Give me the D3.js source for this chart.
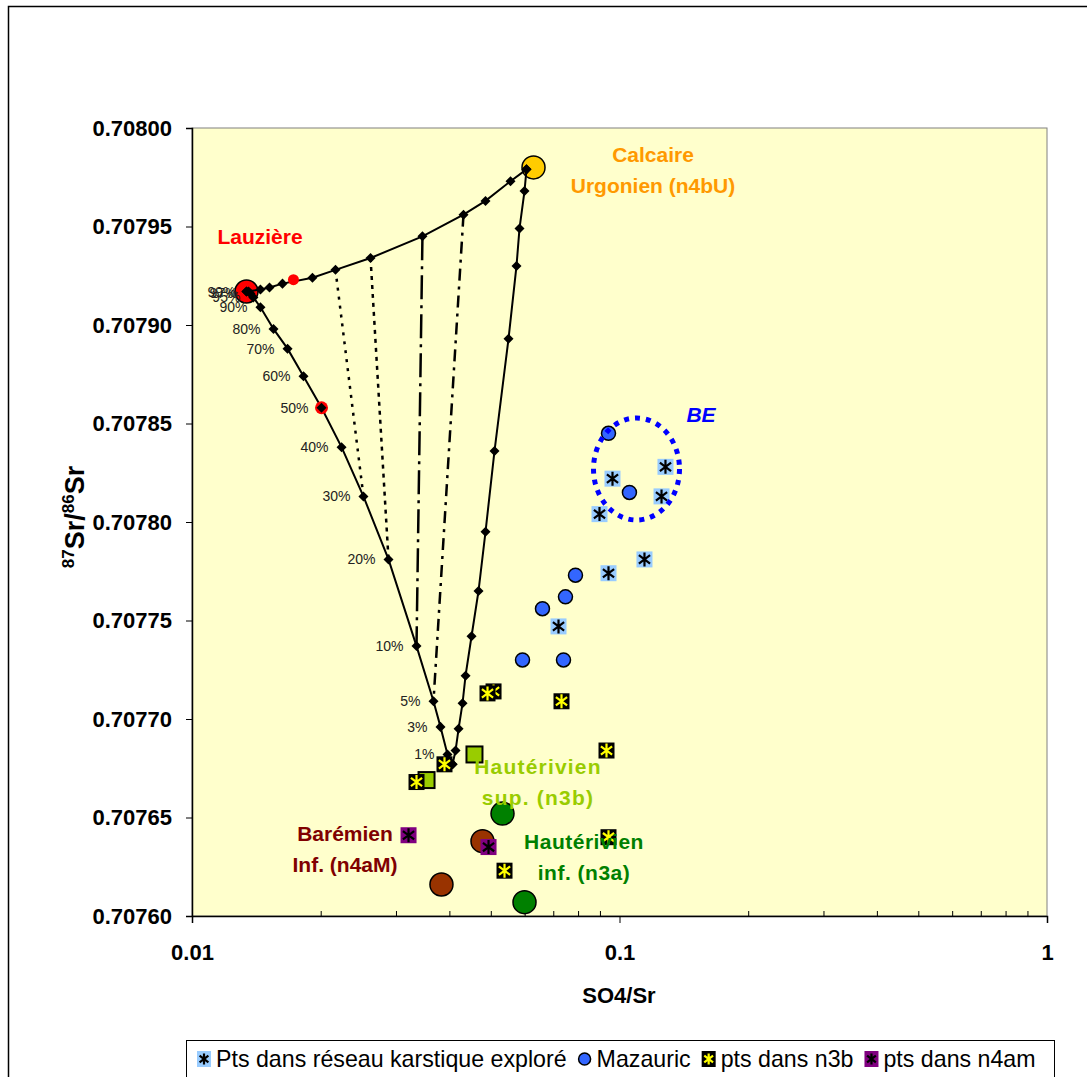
<!DOCTYPE html>
<html><head><meta charset="utf-8">
<script src="https://cdn.jsdelivr.net/npm/d3@7"></script>
<style>
body{margin:0;background:#fff;}
svg{display:block;font-family:Arial,"Liberation Sans",sans-serif;}
</style>
</head><body>
<svg id="c" width="1087" height="1077"></svg>
<script>
// ---------------- DATA ----------------
const yTicks = [0.7076, 0.70765, 0.7077, 0.70775, 0.7078, 0.70785, 0.7079, 0.70795, 0.708];
const xTicks = [0.01, 0.1, 1];
const xMinorTicks = [0.02,0.03,0.04,0.05,0.06,0.07,0.08,0.09,0.2,0.3,0.4,0.5,0.6,0.7,0.8,0.9];

const endMembers = ["Lauzière", "Calcaire Urgonien"];
const endX = [0.01341, 0.06293];
const endY = [0.707917, 0.707980];

// mixing curve Lauzière -> Calcaire Urgonien
const curveTopX = [0.01341,0.01446,0.01518,0.01628,0.01913,0.02166,0.02616,0.0346,0.04316,0.04859,0.05559,0.0606];
const curveTopY = [0.707917,0.707918,0.707919,0.707921,0.707924,0.707928,0.707934,0.707945,0.707956,0.707963,0.707973,0.707979];

// mixing curve Calcaire Urgonien -> Hautérivien
const curveRightX = [0.0606,0.05995,0.05836,0.05742,0.0550,0.0510,0.04859,0.0468,0.04507,0.04364,0.04294,0.04203,0.04135,0.04069];
const curveRightY = [0.707979,0.707968,0.707949,0.707930,0.707893,0.707836,0.707795,0.707765,0.707742,0.707722,0.707708,0.707695,0.707684,0.707677];

// mixing curve Lauzière -> Hautérivien (with % labels)
const curveLeftLabels = ["","99%","97%","95%","90%","80%","70%","60%","50%","40%","30%","20%","10%","5%","3%","1%",""];
const curveLeftX = [0.01341,0.01356,0.0137,0.01392,0.01446,0.01551,0.01673,0.01823,0.02009,0.02238,0.02518,0.02882,0.03351,0.03672,0.03813,0.0396,0.04069];
const curveLeftY = [0.707917,0.707917,0.707916,0.707914,0.707909,0.707898,0.707888,0.707874,0.707858,0.707838,0.707813,0.707781,0.707737,0.707709,0.707696,0.707682,0.707677];

// tie lines: index on top curve -> index on left curve
const tieTopIdx  = [5, 6, 7, 8];
const tieLeftIdx = [10, 11, 12, 13];

// red points
const redX = [0.01727, 0.02009, 0.03351];
const redY = [0.707923, 0.707858, 0.707737];

// series
const karstX = [0.0963,0.1281,0.1254,0.08979,0.1144,0.09425,0.0720];
const karstY = [0.707822,0.707828,0.707813,0.707804,0.707781,0.707774,0.707747];
const mazX = [0.09425,0.1055,0.07889,0.07475,0.06604,0.05931,0.07396];
const mazY = [0.707845,0.707815,0.707773,0.707762,0.707756,0.707730,0.707730];
const n3bX = [0.05074,0.04912,0.07317,0.09324,0.03896,0.03351,0.09425,0.05383];
const n3bY = [0.707714,0.707713,0.707709,0.707684,0.707677,0.707668,0.707640,0.707623];
const n4amX = [0.0321,0.04939];
const n4amY = [0.707641,0.707635];
const hautSupX = [0.04579,0.03537];
const hautSupY = [0.707682,0.707669];
const hautInfX = [0.05325,0.05995];
const hautInfY = [0.707652,0.707607];
const baremX = [0.04781,0.03833];
const baremY = [0.707638,0.707616];

const legendLabels = ["Pts dans réseau karstique exploré","Mazauric","pts dans n3b","pts dans n4am"];

// ---------------- DRAW ----------------
const svg = d3.select("#c");
const L = 192, R = 1047, T = 128, B = 916;
const x = d3.scaleLog().domain([0.01, 1]).range([L, R]);
const y = d3.scaleLinear().domain([0.7076, 0.708]).range([B, T]);

// outer chart border
svg.append("rect").attr("x",8.5).attr("y",6.5).attr("width",1200).attr("height",1200)
  .attr("fill","#fff").attr("stroke","#000").attr("stroke-width",1.5);

// plot area
svg.append("rect").attr("x",L).attr("y",T).attr("width",R-L).attr("height",B-T)
  .attr("fill","#FFFFCC").attr("stroke","#808080").attr("stroke-width",1);

// axes
const yAxis = d3.axisLeft(y).tickValues(yTicks).tickFormat(d3.format(".5f")).tickSize(6).tickPadding(14);
const gy = svg.append("g").attr("transform",`translate(${L},0)`).call(yAxis);
gy.selectAll("text").attr("font-size",22).attr("font-weight","bold").attr("fill","#000").attr("font-family","Arial, Liberation Sans, sans-serif");
gy.select(".domain").attr("stroke","#000").attr("stroke-width",1.5);

const xAxis = d3.axisBottom(x).tickValues(xTicks).tickFormat(d => String(d)).tickSize(7).tickPadding(21);
const gx = svg.append("g").attr("transform",`translate(0,${B})`).call(xAxis);
gx.selectAll("text").attr("font-size",22).attr("font-weight","bold").attr("fill","#000").attr("font-family","Arial, Liberation Sans, sans-serif");
gx.select(".domain").attr("stroke","#000").attr("stroke-width",1.5);
const gxm = svg.append("g").attr("transform",`translate(0,${B})`)
  .call(d3.axisBottom(x).tickValues(xMinorTicks).tickFormat("").tickSizeInner(-5).tickSizeOuter(0));
gxm.select(".domain").remove();

// axis titles
svg.append("text").attr("x",619).attr("y",1003).attr("text-anchor","middle")
  .attr("font-size",22).attr("font-weight","bold").text("SO4/Sr");
const yt = svg.append("text").attr("transform","translate(84,517) rotate(-90)")
  .attr("text-anchor","middle").attr("font-weight","bold").attr("font-size",27);
yt.append("tspan").attr("font-size",17).attr("dy",-10).text("87");
yt.append("tspan").attr("dy",10).text("Sr/");
yt.append("tspan").attr("font-size",17).attr("dy",-10).text("86");
yt.append("tspan").attr("dy",10).text("Sr");

const plot = svg.append("g");

// end-member big circles
const endColors = ["#FF0000","#FFCC00"];
plot.selectAll(".end").data(endX).join("circle")
  .attr("cx",(d)=>x(d)).attr("cy",(d,i)=>y(endY[i])).attr("r",11.5)
  .attr("fill",(d,i)=>endColors[i]).attr("stroke","#000").attr("stroke-width",1.5);

// curves
const line = d3.line().x(d=>x(d[0])).y(d=>y(d[1]));
const topPts = curveTopX.map((v,i)=>[v,curveTopY[i]]);
const rightPts = curveRightX.map((v,i)=>[v,curveRightY[i]]);
const leftPts = curveLeftX.map((v,i)=>[v,curveLeftY[i]]);
[topPts,rightPts,leftPts].forEach(p=>{
  plot.append("path").attr("d",line(p)).attr("fill","none").attr("stroke","#000").attr("stroke-width",2);
});

// tie lines
const tieDash = ["3,6","4,5","24,6,3,6","12,6,3,6"];
tieTopIdx.forEach((ti,k)=>{
  const li = tieLeftIdx[k];
  plot.append("line")
    .attr("x1",x(curveTopX[ti])).attr("y1",y(curveTopY[ti]))
    .attr("x2",x(curveLeftX[li])).attr("y2",y(curveLeftY[li]))
    .attr("stroke","#000").attr("stroke-width",2.5).attr("stroke-dasharray",tieDash[k]);
});

// red dots
const redR = [5.5,6.5,2.5];
plot.selectAll(".red").data(redX).join("circle")
  .attr("cx",d=>x(d)).attr("cy",(d,i)=>y(redY[i])).attr("r",(d,i)=>redR[i]).attr("fill","#FF0000");

// diamonds
const diamond = d3.symbol().type(d3.symbolDiamond2).size(64);
[topPts,rightPts,leftPts].forEach(p=>{
  plot.selectAll(null).data(p.slice(0)).join("path")
    .attr("d",diamond).attr("transform",d=>`translate(${x(d[0])},${y(d[1])})`).attr("fill","#000");
});

// percent labels
plot.selectAll(".pct").data(leftPts).join("text")
  .attr("x",d=>x(d[0])-13).attr("y",(d)=>y(d[1])+5).attr("text-anchor","end")
  .attr("font-size",14).attr("fill","#222").text((d,i)=>curveLeftLabels[i]);

// marker helpers
function asterisk(g, s, color){
  const a = s*0.8, b = s*0.6;
  g.append("path").attr("d",`M0,${-s}L0,${s}M${-a},${-b}L${a},${b}M${-a},${b}L${a},${-b}`)
    .attr("stroke",color).attr("stroke-width",2.2).attr("fill","none");
}
function squareAst(gx, gy, size, fill, astColor, astS){
  const g = plot.append("g").attr("transform",`translate(${gx},${gy})`);
  g.append("rect").attr("x",-size/2).attr("y",-size/2).attr("width",size).attr("height",size).attr("fill",fill);
  asterisk(g, astS, astColor);
  return g;
}

// Hautérivien sup squares
plot.selectAll(".hs").data(hautSupX).join("rect")
  .attr("x",d=>x(d)-8).attr("y",(d,i)=>y(hautSupY[i])-8).attr("width",16).attr("height",16)
  .attr("fill","#99CC00").attr("stroke","#000").attr("stroke-width",2);
// Hautérivien inf circles
plot.selectAll(".hi").data(hautInfX).join("circle")
  .attr("cx",d=>x(d)).attr("cy",(d,i)=>y(hautInfY[i])).attr("r",11.5)
  .attr("fill","#008000").attr("stroke","#000").attr("stroke-width",1.5);
// Barémien circles
plot.selectAll(".bm").data(baremX).join("circle")
  .attr("cx",d=>x(d)).attr("cy",(d,i)=>y(baremY[i])).attr("r",11.5)
  .attr("fill","#993300").attr("stroke","#000").attr("stroke-width",1.5);

// karst
karstX.forEach((v,i)=>squareAst(x(v), y(karstY[i]), 16, "#99CCFF", "#000", 7));
// mazauric
plot.selectAll(".mz").data(mazX).join("circle")
  .attr("cx",d=>x(d)).attr("cy",(d,i)=>y(mazY[i])).attr("r",7)
  .attr("fill","#3366FF").attr("stroke","#000").attr("stroke-width",1.5);
// n3b
n3bX.forEach((v,i)=>squareAst(x(v), y(n3bY[i]), 16, "#000", "#FFFF00", 7));
// n4am
n4amX.forEach((v,i)=>squareAst(x(v), y(n4amY[i]), 16, "#800080", "#000", 7));

// BE ellipse
plot.append("ellipse").attr("cx",636.5).attr("cy",469).attr("rx",43).attr("ry",51)
  .attr("fill","none").attr("stroke","#0000FF").attr("stroke-width",5).attr("stroke-dasharray","5,6");

// annotations
function label(lines, cx, cy, color, opts={}){
  const t = svg.append("text").attr("text-anchor","middle").attr("font-weight","bold")
    .attr("font-size",opts.size||21).attr("fill",color);
  if (opts.italic) t.attr("font-style","italic");
  if (opts.ls) t.attr("letter-spacing",opts.ls);
  lines.forEach((s,i)=>t.append("tspan").attr("x",cx).attr("y",cy+i*31+7).text(s));
}
label(["Lauzière"],260,237,"#FF0000");
label(["Calcaire","Urgonien (n4bU)"],653,155,"#FF9900");
label(["BE"],701,415,"#0000FF",{italic:true});
label(["Hautérivien","sup. (n3b)"],538,767,"#99CC00",{ls:1.2});
label(["Hautérivien","inf. (n3a)"],584,842,"#008000",{ls:0.5});
label(["Barémien","Inf. (n4aM)"],345,834,"#800000");

// legend
const lg = svg.append("g");
lg.append("rect").attr("x",186.5).attr("y",1040.5).attr("width",868).attr("height",60)
  .attr("fill","#fff").attr("stroke","#000").attr("stroke-width",1);
let cx = 204;
const ly = 1059;
legendLabels.forEach((lab,i)=>{
  const g = lg.append("g").attr("transform",`translate(${cx},${ly})`);
  if (i===0){ g.append("rect").attr("x",-7).attr("y",-8).attr("width",14).attr("height",16).attr("fill","#99CCFF"); asterisk(g,5.5,"#000"); }
  if (i===1){ g.append("circle").attr("r",6).attr("fill","#3366FF").attr("stroke","#000").attr("stroke-width",1.5); }
  if (i===2){ g.append("rect").attr("x",-7).attr("y",-8).attr("width",14).attr("height",16).attr("fill","#000"); asterisk(g,5.5,"#FFFF00"); }
  if (i===3){ g.append("rect").attr("x",-7).attr("y",-8).attr("width",14).attr("height",16).attr("fill","#800080"); asterisk(g,5.5,"#000"); }
  const t = lg.append("text").attr("x",cx+12).attr("y",ly+8).attr("font-size",23.2).attr("fill","#000").text(lab);
  cx = cx + 12 + t.node().getComputedTextLength() + 18;
});
</script>
</body></html>
